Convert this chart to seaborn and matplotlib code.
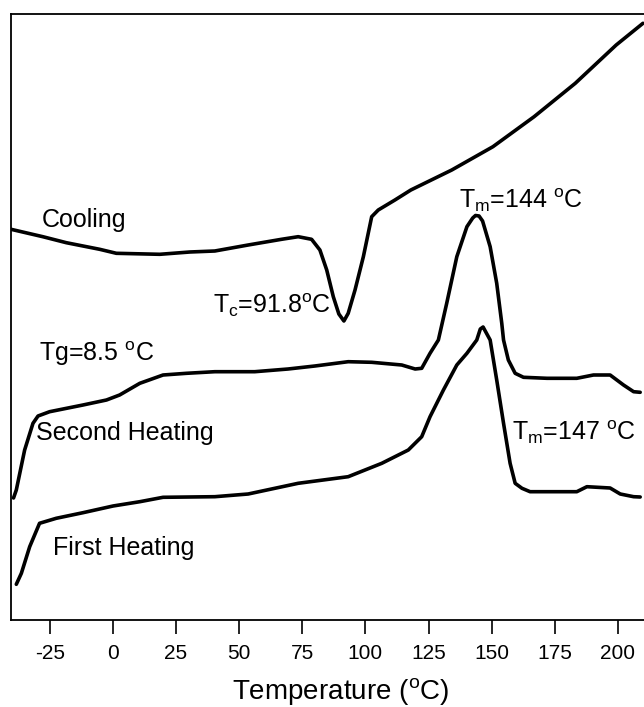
import numpy as np
import pandas as pd
import matplotlib
matplotlib.use("Agg")
import matplotlib.pyplot as plt
import seaborn as sns

sns.set_style("white")
plt.rcParams['font.family'] = ['Liberation Sans', 'DejaVu Sans']
plt.rcParams['mathtext.fontset'] = 'custom'
plt.rcParams['mathtext.rm'] = 'Liberation Sans'
plt.rcParams['text.color'] = 'black'
plt.rcParams['axes.labelcolor'] = 'black'
plt.rcParams['xtick.color'] = 'black'

# DSC traces, heat flow in arbitrary units
cool_T = [-40.3, -27.7, -18.4, -5.2, 1.4, 18.6, 30.5, 40.4, 53.6, 66.8, 73.4, 78.7, 82.0, 84.7,
          87.3, 89.5, 91.5, 93.2, 95.9, 99.2, 102.5, 105.1, 111.7, 118.0, 134.2, 150.5, 166.8,
          183.1, 199.3, 209.9]
cool_hf = [390.7, 383.3, 377.3, 370.7, 366.7, 365.7, 368, 369, 375, 380.7, 383.3, 380.7, 370, 350,
           323.3, 306, 299, 306.7, 330, 363.3, 403.3, 410, 420, 430, 450, 473.3, 503.3,
           536.7, 575, 596.7]

heat2_T = [-39.3, -38.2, -34.9, -31.6, -29.6, -25.0, -11.8, -2.5, 2.7, 10.7, 19.9, 29.2, 40.4,
           56.2, 69.4, 80.0, 93.2, 102.5, 114.4, 119.7, 122.3, 125.6, 128.9, 132.2, 136.2, 140.2,
           142.5, 143.6, 145.0, 146.4, 149.4, 152.0, 154.0, 154.7, 156.6, 159.3, 162.6, 171.9,
           183.7, 190.3, 196.9, 202.2, 206.2, 208.8]
heat2_hf = [122, 130, 170, 196.7, 204, 208.3, 215, 220, 225, 236.7, 245, 246.7, 248.3,
            248.3, 251, 254, 258.3, 257.7, 255, 251, 251.7, 266.7, 280, 316.7, 363.3, 393.3,
            402, 404.5, 404, 399, 373.3, 336.7, 296.7, 280, 260, 246.7, 242.7, 241.7,
            241.7, 245, 245, 235, 228.3, 227.7]

heat1_T = [-38.2, -36.2, -32.9, -29.0, -22.4, -11.8, 0.1, 10.7, 19.9, 40.4, 53.6, 73.4, 93.2,
           106.5, 117.0, 122.3, 125.6, 130.9, 136.2, 140.2, 144.1, 145.5, 146.6, 149.4, 152.0,
           154.7, 157.3, 159.3, 162.0, 165.2, 183.7, 187.7, 196.9, 200.9, 206.2, 208.8]
heat1_hf = [35.7, 46.7, 73.3, 96.7, 101.7, 107.3, 114, 118.3, 122.7, 123.3, 126, 136.7, 143.3,
            156.7, 170, 183.3, 203.3, 230, 255, 266.7, 280, 291, 293, 280, 240,
            196.7, 156.7, 136.7, 131.7, 128.3, 128.3, 133.3, 132, 126, 123.3, 123]

xticks = [-25, 0, 25, 50, 75, 100, 125, 150, 175, 200]

fig = plt.figure(figsize=(6.44, 7.07), dpi=100)
ax = fig.add_axes([11 / 644, 87 / 707, 660 / 644, 606 / 707])

for T, hf in [(cool_T, cool_hf), (heat2_T, heat2_hf), (heat1_T, heat1_hf)]:
    d = pd.DataFrame({"T": T, "hf": hf})
    sns.lineplot(data=d, x="T", y="hf", ax=ax, color="black", lw=2.6,
                 estimator=None, sort=False)

ax.set_xlim(-40.3, 221)
ax.set_ylim(0, 606)
ax.set_xticks(xticks)
ax.set_xticklabels([str(t) for t in xticks], fontsize=15)
ax.set_yticks([])
ax.set_ylabel("")
ax.tick_params(axis="x", direction="out", length=10, width=1.2, pad=7, bottom=True)
for s in ax.spines.values():
    s.set_color("black")
    s.set_linewidth(1.3)
ax.set_xlabel(r"Temperature ($^\mathregular{o}$C)", fontsize=20, labelpad=10)

fs = 18
ax.text(-28.3, 400, "Cooling", fontsize=fs, va="center")
ax.text(39.7, 315, r"T$_\mathregular{c}$=91.8$^\mathregular{o}$C", fontsize=fs, va="center")
ax.text(137.2, 420, r"T$_\mathregular{m}$=144 $^\mathregular{o}$C", fontsize=fs, va="center")
ax.text(-29.2, 266.7, r"Tg=8.5 $^\mathregular{o}$C", fontsize=fs, va="center")
ax.text(-30.3, 186.7, "Second Heating", fontsize=fs, va="center")
ax.text(158.0, 188.3, r"T$_\mathregular{m}$=147 $^\mathregular{o}$C", fontsize=fs, va="center")
ax.text(-23.7, 71.7, "First Heating", fontsize=fs, va="center")

fig.savefig("out.png", dpi=100)
